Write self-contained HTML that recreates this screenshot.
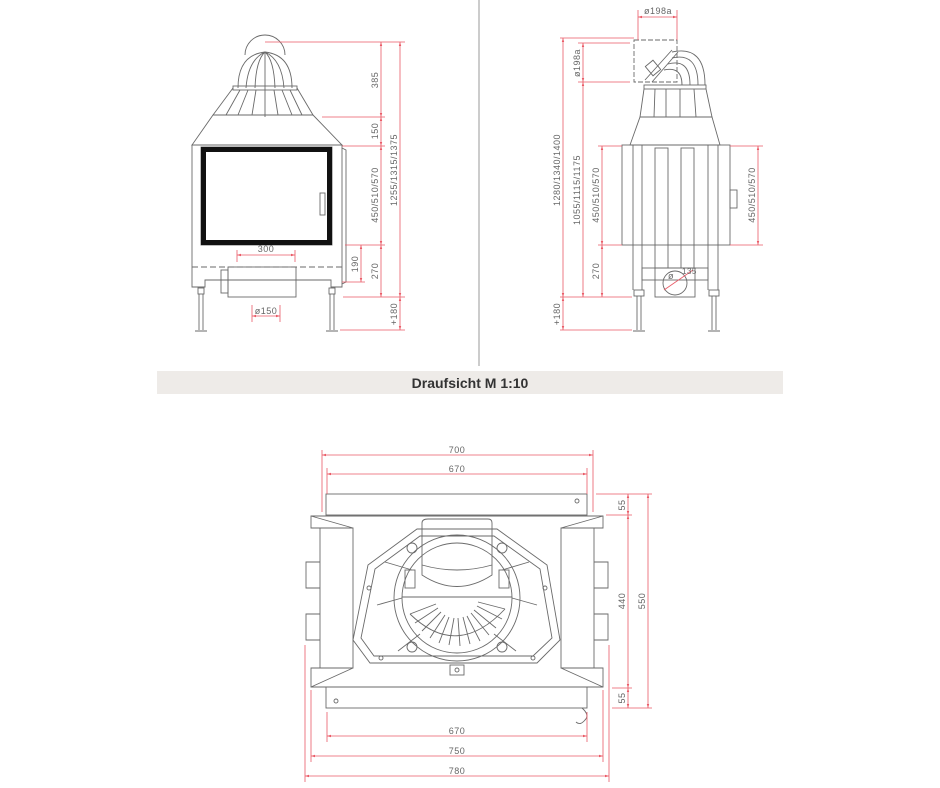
<!DOCTYPE html>
<html><head><meta charset="utf-8"><style>
html,body{margin:0;padding:0;background:#fff;}
svg{display:block;}
text{font-family:"Liberation Sans",sans-serif;}
.l{fill:none;stroke:#6a6a6a;stroke-width:0.9;}
.k{fill:none;stroke:#888;stroke-width:0.7;}
.r{fill:none;stroke:#ea5a66;stroke-width:0.8;}
.t{fill:#666;font-size:9px;letter-spacing:0.5px;}
</style></head><body>
<svg width="940" height="788" viewBox="0 0 940 788" xmlns="http://www.w3.org/2000/svg">
<defs>
<marker id="a" viewBox="0 0 10 10" refX="10" refY="5" markerWidth="5" markerHeight="5" orient="auto-start-reverse"><path d="M0,2 L10,5 L0,8 z" fill="#ea5a66"/></marker>
</defs>
<!-- divider -->
<line x1="479" y1="0" x2="479" y2="366" stroke="#999" stroke-width="1"/>
<!-- banner -->
<rect x="157" y="371" width="626" height="23" fill="#eeebe8"/>
<text x="470" y="388" text-anchor="middle" style="font-size:14px;font-weight:bold;fill:#333;">Draufsicht M 1:10</text>

<!-- ===== FRONT VIEW ===== -->
<g class="l">
<path d="M245,55 A20,20 0 0 1 285,55"/>
<path d="M238,88 Q238,55 265,52 Q292,55 292,88"/>
<path d="M246,88 Q248,60 265,52 M255,88 Q256,60 265,52 M265,52 L265,117 M275,88 Q274,60 265,52 M284,88 Q282,60 265,52"/>
<rect x="233" y="86" width="64" height="4"/>
<path d="M233,88 L213,115 M297,88 L313,115"/>
<path d="M240,90 L226,115 M248,90 L238,115 M256,90 L252,115 M274,90 L278,115 M282,90 L292,115 M290,90 L302,115"/>
<path d="M213,115 L313,115 L342,145 L192,145 Z"/>
<path d="M192,145 L342,145 L342,287 L331,287 L331,280 L205,280 L205,287 L192,287 Z"/>
<path d="M342,148 L346,150 L346,282 L342,284"/>
<rect x="201" y="147" width="131" height="98"/>
<line x1="250" y1="244" x2="282" y2="244"/>
<rect x="228" y="267" width="68" height="30"/>
<rect x="221" y="270" width="7" height="23"/>
<line x1="192" y1="267" x2="342" y2="267" stroke-dasharray="6,3"/>
<rect x="198" y="288" width="6" height="6"/><rect x="329" y="288" width="6" height="6"/>
<path d="M199,294 L199,330 M203,294 L203,330 M330,294 L330,330 M334,294 L334,330"/>
<path d="M195,331 L207,331 M326,331 L338,331"/>
<rect x="320" y="193" width="5" height="22"/>
</g>
<rect x="203.5" y="149.5" width="126" height="93" fill="none" stroke="#111" stroke-width="5"/>
<!-- front dims -->
<g class="r">
<path d="M265,42 L405,42 M322,117 L385,117 M342,146 L385,146 M345,245 L385,245 M342,282 L365,282 M343,297 L405,297 M340,330 L405,330"/>
<line x1="381" y1="42" x2="381" y2="117" marker-start="url(#a)" marker-end="url(#a)"/>
<line x1="381" y1="117" x2="381" y2="146" marker-start="url(#a)" marker-end="url(#a)"/>
<line x1="381" y1="146" x2="381" y2="245" marker-start="url(#a)" marker-end="url(#a)"/>
<line x1="381" y1="245" x2="381" y2="297" marker-start="url(#a)" marker-end="url(#a)"/>
<line x1="361" y1="245" x2="361" y2="282" marker-start="url(#a)" marker-end="url(#a)"/>
<line x1="400" y1="42" x2="400" y2="297" marker-start="url(#a)" marker-end="url(#a)"/>
<line x1="400" y1="297" x2="400" y2="330" marker-start="url(#a)" marker-end="url(#a)"/>
<line x1="237" y1="255" x2="295" y2="255" marker-start="url(#a)" marker-end="url(#a)"/>
<path d="M237,250 L237,262 M295,250 L295,262 M252,305 L252,322 M280,305 L280,322"/>
<line x1="252" y1="316" x2="280" y2="316" marker-start="url(#a)" marker-end="url(#a)"/>
</g>
<g class="t">
<text transform="translate(378,80) rotate(-90)" text-anchor="middle">385</text>
<text transform="translate(378,131) rotate(-90)" text-anchor="middle">150</text>
<text transform="translate(378,195) rotate(-90)" text-anchor="middle">450/510/570</text>
<text transform="translate(378,271) rotate(-90)" text-anchor="middle">270</text>
<text transform="translate(358,264) rotate(-90)" text-anchor="middle">190</text>
<text transform="translate(397,170) rotate(-90)" text-anchor="middle">1255/1315/1375</text>
<text transform="translate(397,314) rotate(-90)" text-anchor="middle">+180</text>
<text x="266" y="252" text-anchor="middle">300</text>
<text x="266" y="314" text-anchor="middle">ø150</text>
</g>

<!-- ===== SIDE VIEW ===== -->
<g class="l">
<rect x="634" y="40" width="43" height="42" stroke-dasharray="5,2"/>
<path d="M672,52 Q705,45 705,85 M672,58 Q698,52 698,85 M668,64 Q690,58 690,85 M664,70 Q682,66 682,85"/>
<path d="M645,80 L672,50 M652,82 L678,52"/>
<rect x="648" y="62" width="10" height="12" transform="rotate(-40 653 68)"/>
<rect x="644" y="85" width="62" height="4"/>
<path d="M644,89 L640,117 M706,89 L712,117 M655,89 L654,117 M666,89 L666,117 M680,89 L680,117 M694,89 L696,117"/>
<path d="M640,117 L712,117 L720,145 L630,145 Z"/>
<rect x="622" y="145" width="108" height="100"/>
<path d="M633,145 L633,290 M642,145 L642,290 M708,145 L708,290 M718,145 L718,290"/>
<rect x="655" y="148" width="13" height="120"/><rect x="681" y="148" width="13" height="120"/>
<rect x="642" y="268" width="66" height="12"/>
<rect x="655" y="268" width="40" height="29"/>
<circle cx="675" cy="283" r="12"/>
<rect x="730" y="190" width="7" height="18"/>
<rect x="634" y="290" width="10" height="6"/><rect x="709" y="290" width="10" height="6"/>
<path d="M637,296 L637,330 M641,296 L641,330 M712,296 L712,330 M716,296 L716,330 M633,331 L645,331 M708,331 L720,331"/>
</g>
<g class="r">
<path d="M638,10 L638,40 M677,10 L677,40 M560,38 L634,38 M578,43 L630,43 M578,82 L630,82 M598,146 L622,146 M598,245 L622,245 M560,297 L632,297 M560,330 L632,330 M730,146 L763,146 M730,245 L763,245"/>
<line x1="638" y1="17" x2="677" y2="17" marker-start="url(#a)" marker-end="url(#a)"/>
<line x1="563" y1="38" x2="563" y2="297" marker-start="url(#a)" marker-end="url(#a)"/>
<line x1="563" y1="297" x2="563" y2="330" marker-start="url(#a)" marker-end="url(#a)"/>
<line x1="583" y1="43" x2="583" y2="82" marker-start="url(#a)" marker-end="url(#a)"/>
<line x1="583" y1="82" x2="583" y2="297" marker-start="url(#a)" marker-end="url(#a)"/>
<line x1="602" y1="146" x2="602" y2="245" marker-start="url(#a)" marker-end="url(#a)"/>
<line x1="602" y1="245" x2="602" y2="297" marker-start="url(#a)" marker-end="url(#a)"/>
<line x1="758" y1="146" x2="758" y2="245" marker-start="url(#a)" marker-end="url(#a)"/>
<line x1="664" y1="290" x2="693" y2="270"/>
</g>
<g class="t">
<text x="658" y="14" text-anchor="middle">ø198a</text>
<text transform="translate(580,63) rotate(-90)" text-anchor="middle">ø198a</text>
<text transform="translate(560,170) rotate(-90)" text-anchor="middle">1280/1340/1400</text>
<text transform="translate(580,190) rotate(-90)" text-anchor="middle">1055/1115/1175</text>
<text transform="translate(599,195) rotate(-90)" text-anchor="middle">450/510/570</text>
<text transform="translate(599,271) rotate(-90)" text-anchor="middle">270</text>
<text transform="translate(755,195) rotate(-90)" text-anchor="middle">450/510/570</text>
<text transform="translate(560,314) rotate(-90)" text-anchor="middle">+180</text>
<text x="668" y="279">ø</text><text x="682" y="274" style="font-size:8px">135</text>
</g>

<!-- ===== TOP VIEW ===== -->
<g class="l">
<rect x="326" y="494" width="261" height="21"/>
<circle cx="577" cy="501" r="2"/>
<rect x="326" y="687" width="261" height="21"/>
<circle cx="336" cy="701" r="2"/>
<path d="M582,708 Q590,715 585,720 Q580,726 576,722"/>
<path d="M311,516 L603,516 L603,528 L561,528 L561,668 L603,668 L603,687 L311,687 L311,668 L353,668 L353,528 L311,528 Z"/>
<path d="M311,516 L353,528 M603,516 L561,528 M311,687 L353,668 M603,687 L561,668"/>
<path d="M320,528 L320,668 M594,528 L594,668"/>
<path d="M320,562 L306,562 L306,588 L320,588 M320,614 L306,614 L306,640 L320,640 M594,562 L608,562 L608,588 L594,588 M594,614 L608,614 L608,640 L594,640"/>
<path d="M417,529 L497,529 L547,565 L560,640 L537,663 L370,663 L353,640 L368,565 Z"/>
<path d="M420,536 L494,536 L540,569 L552,638 L533,656 L374,656 L361,638 L375,569 Z"/>
<circle cx="457" cy="598" r="63"/>
<circle cx="457" cy="598" r="55"/>
<path d="M402,598 L377,605 M512,598 L537,605 M412,570 L385,562 M502,570 L529,562 M420,634 L398,651 M494,634 L516,651"/>
<circle cx="412" cy="548" r="5"/><circle cx="502" cy="548" r="5"/><circle cx="412" cy="647" r="5"/><circle cx="502" cy="647" r="5"/>
<rect x="405" y="570" width="10" height="18"/><rect x="499" y="570" width="10" height="18"/>
<path d="M402,597 L512,597"/>
<path d="M428,519 L488,519 Q492,519 492,523 L492,575 Q457,598 422,575 L422,523 Q422,519 428,519 Z"/>
<path d="M422,565 Q457,575 492,565"/>
<rect x="450" y="665" width="14" height="10"/><circle cx="457" cy="670" r="2"/>
<path d="M478,602 L505,609 M477,606 L502,619 M474,610 L496,628 M471,613 L489,635 M467,616 L480,641 M463,617 L470,644 M458,618 L460,646 M454,618 L449,645 M449,617 L439,643 M445,615 L430,638 M441,612 L422,631 M438,608 L415,623 M436,604 L410,614"/>
<path d="M410,614 Q457,660 505,609"/>
<circle cx="369" cy="588" r="2"/><circle cx="545" cy="588" r="2"/><circle cx="381" cy="658" r="2"/><circle cx="533" cy="658" r="2"/>
</g>
<g class="r">
<path d="M322,450 L322,512 M593,450 L593,512 M327,468 L327,494 M587,468 L587,494 M596,494 L652,494 M606,515 L632,515 M612,688 L632,688 M612,708 L652,708 M305,645 L305,782 M609,645 L609,782 M311,690 L311,762 M603,690 L603,762 M327,712 L327,742 M587,712 L587,742"/>
<line x1="322" y1="455" x2="593" y2="455" marker-start="url(#a)" marker-end="url(#a)"/>
<line x1="327" y1="474" x2="587" y2="474" marker-start="url(#a)" marker-end="url(#a)"/>
<line x1="628" y1="494" x2="628" y2="515" marker-start="url(#a)" marker-end="url(#a)"/>
<line x1="628" y1="515" x2="628" y2="688" marker-start="url(#a)" marker-end="url(#a)"/>
<line x1="628" y1="688" x2="628" y2="708" marker-start="url(#a)" marker-end="url(#a)"/>
<line x1="648" y1="494" x2="648" y2="708" marker-start="url(#a)" marker-end="url(#a)"/>
<line x1="327" y1="736" x2="587" y2="736" marker-start="url(#a)" marker-end="url(#a)"/>
<line x1="311" y1="756" x2="603" y2="756" marker-start="url(#a)" marker-end="url(#a)"/>
<line x1="305" y1="776" x2="609" y2="776" marker-start="url(#a)" marker-end="url(#a)"/>
</g>
<g class="t">
<text x="457" y="453" text-anchor="middle">700</text>
<text x="457" y="472" text-anchor="middle">670</text>
<text x="457" y="734" text-anchor="middle">670</text>
<text x="457" y="754" text-anchor="middle">750</text>
<text x="457" y="774" text-anchor="middle">780</text>
<text transform="translate(625,505) rotate(-90)" text-anchor="middle">55</text>
<text transform="translate(625,601) rotate(-90)" text-anchor="middle">440</text>
<text transform="translate(625,698) rotate(-90)" text-anchor="middle">55</text>
<text transform="translate(645,601) rotate(-90)" text-anchor="middle">550</text>
</g>
</svg>
</body></html>
